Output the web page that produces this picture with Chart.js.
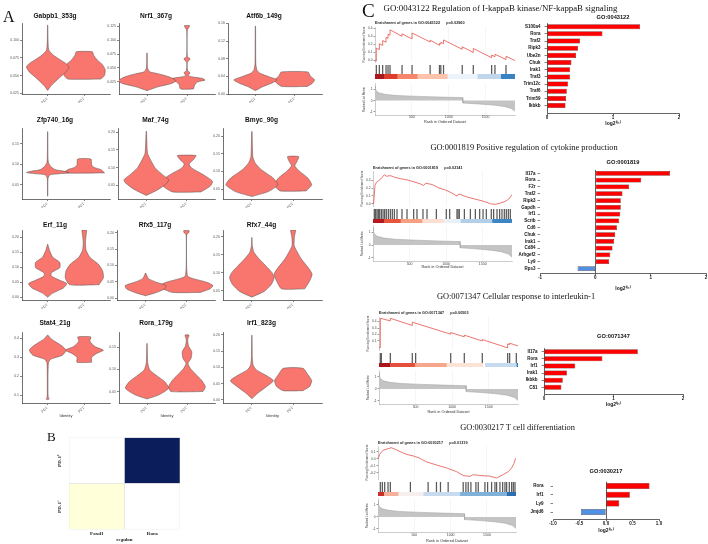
<!DOCTYPE html>
<html><head><meta charset="utf-8">
<script src="https://cdn.jsdelivr.net/npm/chart.js"></script>
<style>
html,body{margin:0;padding:0;background:#fff;}
#root{position:relative;width:708px;height:544px;overflow:hidden;background:#fff;}
#root canvas{position:absolute;}
.t{position:absolute;white-space:nowrap;line-height:1;color:#111;font-family:"Liberation Serif","Times New Roman",serif;}
</style></head><body><div id="root"></div>
<script>
// ---------------- DATA ----------------
const groups = ['PD1\u207B', 'PD1\u207A'];
const violinTitles = ['Gabpb1_353g','Nrf1_367g','Atf6b_149g','Zfp740_16g','Maf_74g','Bmyc_90g','Erf_11g','Rfx5_117g','Rfx7_44g','Stat4_21g','Rora_179g','Irf1_823g'];
// violin outlines: [value, relative half-width] from bottom to top
const gabpb1Neg = [[0.029,0],[0.036,0.1],[0.046,0.3],[0.055,0.5],[0.062,0.58],[0.067,0.5],[0.072,0.35],[0.079,0.15],[0.086,0.03],[0.1,0.01],[0.121,0.004]];
const gabpb1Pos = [[0.045,0.45],[0.05,0.55],[0.058,0.57],[0.065,0.5],[0.072,0.35],[0.079,0.25],[0.0835,0.22]];
const nrf1Neg = [[0.009,0],[0.016,0.28],[0.022,0.62],[0.027,0.72],[0.034,0.55],[0.04,0.25],[0.043,0.07],[0.05,0.014],[0.077,0.005]];
const nrf1Pos = [[0.012,0.16],[0.02,0.2],[0.025,0.27],[0.028,0.45],[0.031,0.39],[0.034,0.12],[0.037,0.025],[0.041,0.08],[0.045,0.016],[0.06,0.008],[0.066,0.08],[0.071,0.008],[0.118,0.008],[0.126,0.07]];
const atf6bNeg = [[0.0075,0],[0.017,0.2],[0.024,0.4],[0.032,0.55],[0.039,0.35],[0.047,0.12],[0.054,0.04],[0.069,0.01],[0.154,0.004]];
const atf6bPos = [[0.017,0.32],[0.024,0.45],[0.032,0.51],[0.041,0.4],[0.05,0.34]];
const zfp740Neg = [[0.022,0.004],[0.065,0.01],[0.074,0.06],[0.078,0.45],[0.08,0.58],[0.083,0.45],[0.087,0.2],[0.095,0.08],[0.105,0.02],[0.12,0.008],[0.18,0.004]];
const zfp740Pos = [[0.079,0.55],[0.087,0.45],[0.093,0.25],[0.099,0.2],[0.113,0.18]];
const mafNeg = [[0.021,0],[0.038,0.3],[0.057,0.52],[0.066,0.55],[0.08,0.4],[0.099,0.22],[0.123,0.1],[0.141,0.03],[0.203,0.004]];
const mafPos = [[0.031,0.35],[0.047,0.58],[0.061,0.64],[0.08,0.41],[0.099,0.12],[0.11,0.06],[0.123,0.17],[0.134,0.23]];
const bmycNeg = [[0.029,0],[0.043,0.4],[0.062,0.63],[0.081,0.52],[0.105,0.23],[0.124,0.08],[0.142,0.023],[0.213,0.005]];
const bmycPos = [[0.045,0.32],[0.062,0.45],[0.081,0.36],[0.1,0.16],[0.116,0.04],[0.128,0.095],[0.142,0.135]];
const erfNeg = [[0,0],[0.014,0.14],[0.031,0.43],[0.046,0.52],[0.057,0.33],[0.071,0.1],[0.082,0.1],[0.099,0.33],[0.117,0.33],[0.134,0.14],[0.157,0.05],[0.177,0.004]];
const erfPos = [[0.042,0.4],[0.065,0.52],[0.088,0.5],[0.111,0.38],[0.134,0.15],[0.157,0.05],[0.185,0.03],[0.208,0.05],[0.225,0.06]];
const rfx5Neg = [[0.008,0],[0.018,0.27],[0.029,0.47],[0.039,0.5],[0.049,0.27],[0.06,0.07],[0.07,0.027],[0.077,0.004]];
const rfx5Pos = [[0.018,0.34],[0.029,0.58],[0.039,0.65],[0.049,0.5],[0.06,0.17],[0.067,0.034],[0.095,0.006],[0.193,0.006],[0.2,0.056],[0.206,0.067]];
const rfx7Neg = [[0.032,0],[0.048,0.3],[0.067,0.47],[0.086,0.54],[0.1,0.49],[0.119,0.34],[0.138,0.18],[0.157,0.05],[0.176,0.01],[0.198,0.003]];
const rfx7Pos = [[0.055,0.28],[0.077,0.4],[0.096,0.46],[0.115,0.36],[0.138,0.2],[0.162,0.08],[0.176,0.025],[0.2,0.032],[0.219,0.057]];
const stat4Neg = [[0.076,0.02],[0.08,0.045],[0.085,0.02],[0.11,0.01],[0.27,0.02],[0.29,0.09],[0.31,0.4],[0.337,0.5],[0.358,0.4],[0.381,0.22],[0.398,0.09],[0.416,0.01]];
const stat4Pos = [[0.273,0.2],[0.299,0.2],[0.32,0.34],[0.337,0.52],[0.355,0.3],[0.372,0.2],[0.386,0.15],[0.407,0.18]];
const roraNeg = [[0.033,0],[0.0425,0.3],[0.0575,0.54],[0.0725,0.44],[0.0876,0.22],[0.099,0.07],[0.114,0.02],[0.136,0.01],[0.159,0.004]];
const roraPos = [[0.05,0.4],[0.061,0.46],[0.076,0.36],[0.091,0.2],[0.103,0.08],[0.114,0.025],[0.125,0.1],[0.14,0.12],[0.153,0.04],[0.167,0.016],[0.178,0.05]];
const irf1Neg = [[0.003,0],[0.02,0.14],[0.041,0.36],[0.059,0.52],[0.077,0.32],[0.092,0.11],[0.107,0.03],[0.133,0.01],[0.199,0.004]];
const irf1Pos = [[0.028,0.24],[0.041,0.4],[0.059,0.45],[0.077,0.36],[0.097,0.24]];
const violinProfiles = [[gabpb1Neg,gabpb1Pos],[nrf1Neg,nrf1Pos],[atf6bNeg,atf6bPos],[zfp740Neg,zfp740Pos],[mafNeg,mafPos],[bmycNeg,bmycPos],[erfNeg,erfPos],[rfx5Neg,rfx5Pos],[rfx7Neg,rfx7Pos],[stat4Neg,stat4Pos],[roraNeg,roraPos],[irf1Neg,irf1Pos]];
// y axis: [min, max, tick step, decimals]
const violinAxes = [[0.024,0.124,0.025,3],[0.003,0.131,0.025,3],[0,0.161,0.04,2],[0.015,0.189,0.05,2],[0.011,0.212,0.05,2],[0.022,0.223,0.05,2],[-0.009,0.225,0.05,2],[-0.005,0.208,0.05,2],[0.024,0.219,0.05,2],[0.058,0.433,0.1,1],[0.024,0.185,0.05,2],[-0.01,0.209,0.05,2]];

// heatmap (panel B)
const heatCols = ['Foxd1','Rora'];
const heatRows = ['PD-1\u207B','PD-1\u207A'];       // bottom to top
const heatValues = [[0, null],[null, 1]];

// GSEA (panel C)
const gseaGO = ['GO:0043122','GO:0001819','GO:0071347','GO:0030217'];
const gseaNames = ['Regulation of I-kappaB kinase/NF-kappaB signaling','Positive regulation of cytokine production','Cellular response to interleukin-1','T cell differentiation'];
const gseaP = ['0.02960','0.02141','0.00503','0.01319'];
const rankTicks = [500, 1000, 1500];
const es1 = [[0,0],[18,-0.008],[18,0.155],[59,0.136],[59,0.21],[104,0.189],[104,0.25],[150,0.228],[150,0.29],[177,0.277],[177,0.33],[204,0.317],[204,0.385],[367,0.303],[367,0.335],[503,0.27],[503,0.345],[748,0.232],[748,0.255],[875,0.19],[875,0.215],[893,0.207],[893,0.228],[930,0.212],[930,0.258],[1184,0.14],[1184,0.172],[1334,0.1],[1334,0.15],[1583,0.035],[1583,0.068],[1628,0.047],[1628,0.078],[1778,0.012],[1778,0.052],[1900,0]];
const es2 = [[0,0],[9,0.004],[27,0.233],[46,0.272],[77,0.292],[109,0.319],[155,0.37],[182,0.35],[237,0.358],[282,0.342],[374,0.319],[465,0.303],[556,0.28],[647,0.253],[692,0.233],[720,0.261],[806,0.245],[898,0.202],[989,0.175],[1080,0.136],[1148,0.097],[1171,0.125],[1285,0.086],[1399,0.058],[1513,0.031],[1604,0],[1672,-0.008],[1740,0.008],[1809,0.031],[1854,0.058],[1886,0.097],[1900,0.117]];
const es3 = [[0,0],[18,-0.005],[18,0.45],[155,0.41],[155,0.45],[455,0.34],[455,0.39],[980,0.205],[980,0.23],[1166,0.165],[1166,0.19],[1412,0.1],[1412,0.122],[1759,-0.006],[1759,0.055],[1786,0.045],[1786,0.066],[1900,0.024]];
const es4 = [[0,0],[9,0],[23,0.065],[46,0.096],[69,0.122],[115,0.139],[184,0.161],[253,0.13],[322,0.096],[391,0.065],[483,0.043],[575,0.009],[667,-0.043],[805,-0.087],[943,-0.13],[1081,-0.183],[1173,-0.239],[1265,-0.252],[1311,-0.226],[1403,-0.239],[1541,-0.248],[1633,-0.274],[1725,-0.226],[1794,-0.183],[1840,-0.13],[1872,-0.065],[1895,0.009]];
const hits1 = [18,59,104,150,177,204,367,503,748,875,893,930,1184,1334,1583,1628,1778];
const hits2 = [18,36,55,73,91,114,137,159,182,210,237,264,292,328,396,465,556,601,683,738,866,1002,1048,1148,1162,1180,1249,1331,1399,1458,1504,1549,1617,1649,1695,1731,1763,1795,1822,1850,1877];
const hits3 = [18,32,155,455,501,980,1166,1412,1759,1786,1877];
const hits4 = [32,60,92,138,170,446,690,805,860,966,1173,1210,1242,1279,1348,1380,1472,1509,1564,1610,1633,1679,1716,1748,1771,1808,1840,1863,1886];
const stripBreaks1 = [0,118,299,571,980,1388,1705,1900];
const stripBreaks2 = [0,146,374,670,966,1194,1626,1900];
const stripBreaks3 = [0,146,487,920,1421,1444,1877,1900];
const stripBreaks4 = [0,78,276,621,1127,1771,1900];
const rankedMetric = [[0,1.3],[5,1.1],[20,0.85],[60,0.68],[150,0.55],[300,0.46],[600,0.38],[900,0.32],[1190,0.27],[1192,-0.22],[1400,-0.3],[1600,-0.4],[1750,-0.52],[1850,-0.7],[1900,-0.95]];
const metricTicks = [-1, 0, 1];
const esCurves = [es1,es2,es3,es4];
const hitSets = [hits1,hits2,hits3,hits4];
const stripBreaks = [stripBreaks1,stripBreaks2,stripBreaks3,stripBreaks4];
const esAxes = [[-0.02,0.42],[-0.03,0.417],[-0.04,0.47],[-0.29,0.185]];
const esTicks = [[0,0.1,0.2,0.3,0.4],[0,0.1,0.2,0.3],[0.1,0.2,0.3,0.4],[-0.2,-0.1,0,0.1]];

// log2 fold change bars
const go1Genes = ['S100a4','Rora','Traf2','Ripk3','Ube2n','Chuk','Irak1','Traf3','Trim12c','Traf6','Trim59','Ikbkb'];
const go1FC = [1.41,0.84,0.50,0.47,0.44,0.37,0.35,0.35,0.32,0.30,0.29,0.28];
const go2Genes = ['Il17a','Rora','F2r','Traf2','Ripk3','Gapdh','Irf1','Scrib','Cd6','Chuk','Irak1','Cd84','Arhgef2','Ly9','Rps3'];
const go2FC = [1.35,0.83,0.61,0.49,0.46,0.46,0.45,0.43,0.39,0.36,0.34,0.31,0.27,0.25,-0.32];
const go3Genes = ['Il17a','Rora','Irf1','Irak1','Ikbkb','C81'];
const go3FC = [1.35,0.84,0.45,0.33,0.27,0.25];
const go4Genes = ['Rora','Irf1','Ly9','Jmjd6'];
const go4FC = [0.82,0.45,0.25,-0.47];
const goGenes = [go1Genes,go2Genes,go3Genes,go4Genes];
const goFC = [go1FC,go2FC,go3FC,go4FC];

// ---------------- STYLES ----------------
const violinFill = '#F8766D', violinEdge = '#505050';
const heatLow = '#ffffd9', heatHigh = '#0b1d5a', heatNA = '#ffffff';
const stripColors = [
  ['#a8191f','#de3d2e','#f5866b','#fcc2aa','#edf3fb','#bfd6ec','#3a83c3'],
  ['#b3191f','#e8553f','#f6a083','#fde0d2','#e9f0f8','#b3cfe8','#3c86c6'],
  ['#a8171d','#e5503b','#f5a68b','#fde3d6','#ffffff','#c6dbef','#2f78b8'],
  ['#c8312a','#f6b19a','#f7efee','#c7daee','#7fb1d9','#2d6fae']];
const esColor = '#e5534b', barPos = '#ff0000', barNeg = '#4f92e3', barEdge = '#3b0a0a', hitColor = '#5a5a5a';
const SERIF = "'Liberation Serif','Times New Roman',serif";

// ---------------- LAYOUT ----------------
const violinLayout = [
  {titleX:72,titleY:16,left:22,right:110,top:23,bottom:94},
  {titleX:189,titleY:16,left:119,right:215,top:23,bottom:94},
  {titleX:290,titleY:16,left:228,right:322,top:23,bottom:94},
  {titleX:75,titleY:120,left:22,right:110,top:128,bottom:199},
  {titleX:193,titleY:120,left:118,right:215,top:128,bottom:199},
  {titleX:295,titleY:120,left:223,right:322,top:128,bottom:199},
  {titleX:72,titleY:225,left:22,right:110,top:230,bottom:300},
  {titleX:193,titleY:225,left:117,right:215,top:230,bottom:300},
  {titleX:295,titleY:225,left:223,right:322,top:230,bottom:300},
  {titleX:74,titleY:323,left:22,right:110,top:332,bottom:403,xTitle:true},
  {titleX:179,titleY:323,left:119,right:215,top:332,bottom:403,xTitle:true},
  {titleX:277,titleY:323,left:223,right:322,top:332,bottom:403,xTitle:true}];
const gseaLayout = [
  {L:362,A:375,R:515,titleY:23,esTop:27,esBot:65,bcBot:74,stBot:79,mTop:83,mBot:115.5,xH:8.9},
  {L:360,A:373,R:512,titleY:168,esTop:171,esBot:209,bcBot:219,stBot:223,mTop:225,mBot:262,xH:7.4},
  {L:366,A:379,R:518,titleY:313,esTop:317,esBot:353,bcBot:363,stBot:367,mTop:370,mBot:405,xH:9.4},
  {L:365,A:378,R:516,titleY:443,esTop:446,esBot:482,bcBot:492,stBot:496,mTop:498,mBot:533,xH:10.4}];
const barLayout = [
  {titleY:17,left:547,right:679,top:23.1,bottom:113.5,xH:13.5,yMax:12.1,xMin:0,xMax:2,xStep:1,dec:0,yPad:4},
  {titleY:162.3,left:540,right:706,top:169.9,bottom:273.3,xH:18.7,yMax:14.7,xMin:-1,xMax:2,xStep:1,dec:0,yPad:2},
  {titleY:336.7,left:544,right:683,top:348.1,bottom:394,xH:14,yMax:5.94,xMin:0,xMax:2,xStep:1,dec:0,yPad:4},
  {titleY:471,left:553,right:659,top:481.7,bottom:519.3,xH:14.7,yMax:3.84,xMin:-1,xMax:1,xStep:0.5,dec:1,yPad:7}];
const headings = [{x:500.5,y:8.5,s:8.8},{x:524,y:149,s:8.4},{x:516,y:298,s:8.4},{x:517.5,y:429,s:8.4}];

// ---------------- DRAW ----------------
Chart.defaults.font.family = "'Liberation Sans', Arial, Helvetica, sans-serif";
Chart.defaults.color = '#222';
Chart.defaults.animation = false;
Chart.defaults.responsive = false;
Chart.defaults.maintainAspectRatio = false;
Chart.defaults.devicePixelRatio = 1;
Chart.defaults.plugins.legend.display = false;
Chart.defaults.plugins.tooltip.enabled = false;
Chart.defaults.events = [];

const root = document.getElementById('root');
function addCanvas(l, t, w, h) {
  const c = document.createElement('canvas');
  c.width = Math.round(w); c.height = Math.round(h);
  c.style.left = Math.round(l) + 'px'; c.style.top = Math.round(t) + 'px';
  c.style.width = Math.round(w) + 'px'; c.style.height = Math.round(h) + 'px';
  root.appendChild(c);
  return c;
}
function addText(txt, x, y, size, center) {
  const d = document.createElement('div');
  d.className = 't'; d.textContent = txt;
  d.style.fontSize = size + 'px';
  d.style.left = x + 'px';
  d.style.top = (y - 0.55 * size) + 'px';
  if (center) d.style.transform = 'translateX(-50%)';
  root.appendChild(d);
}
function outline(prof, pos) {
  const right = prof.map(([v, w]) => ({x: pos + w, y: v}));
  const left = prof.slice().reverse().map(([v, w]) => ({x: pos - w, y: v}));
  return right.concat(left, [right[0]]);
}
function stepTicks(min, max, step) {
  const out = [];
  for (let v = Math.ceil(min / step - 1e-9) * step; v <= max + 1e-9; v += step) out.push({value: Math.round(v * 1e6) / 1e6});
  return out;
}
function lerpHex(a, b, t) {
  const pa = [1,3,5].map(i => parseInt(a.substr(i,2),16));
  const pb = [1,3,5].map(i => parseInt(b.substr(i,2),16));
  return 'rgb(' + pa.map((v,i) => Math.round(v + (pb[i]-v)*t)).join(',') + ')';
}
function heatColor(v) { return v == null ? heatNA : lerpHex(heatLow, heatHigh, v); }

// ---- Panel A: violins
function drawViolin(i) {
  const g = violinLayout[i];
  const fs = 6.6, yW = 22;
  const xH = g.xTitle ? 15 : 9;
  const cl = g.left - yW;
  const cw = Math.round(2 * (g.titleX - cl));
  const ct = Math.round(g.titleY - 0.6 * fs);
  const ch = Math.round(g.bottom + xH - ct);
  const [ymin, ymax, step, dec] = violinAxes[i];
  const datasets = violinProfiles[i].map((prof, k) => ({
    data: outline(prof, k + 1), showLine: true, fill: 'shape',
    backgroundColor: violinFill, borderColor: violinEdge, borderWidth: 0.5,
    pointRadius: 0, tension: 0.2
  }));
  new Chart(addCanvas(cl, ct, cw, ch), {
    type: 'scatter', data: {datasets},
    options: {
      layout: {padding: {left: 0, top: 0, bottom: 0, right: cl + cw - g.right}},
      plugins: {title: {display: true, text: violinTitles[i], color: '#111', font: {size: fs, weight: 'bold'}, padding: {top: 0, bottom: g.top - ct - 1.2 * fs}}},
      scales: {
        x: {type: 'linear', min: 0.3, max: 2.7, afterFit: s => { s.height = xH; },
            afterBuildTicks: s => { s.ticks = groups.map((_, j) => ({value: j + 1})); },
            border: {color: '#333', width: 0.7},
            grid: {drawOnChartArea: false, drawTicks: true, tickLength: 2, tickColor: '#333', lineWidth: 0.6},
            ticks: {autoSkip: false, minRotation: 45, maxRotation: 45, padding: 0, font: {size: 3.6}, color: '#555', callback: (v, j) => groups[j]},
            title: {display: !!g.xTitle, text: 'Identity', font: {size: 4}, padding: 0, color: '#333'}},
        y: {min: ymin, max: ymax, afterFit: s => { s.width = yW; },
            afterBuildTicks: s => { s.ticks = stepTicks(ymin, ymax, step); },
            border: {color: '#333', width: 0.7},
            grid: {drawOnChartArea: false, drawTicks: true, tickLength: 2, tickColor: '#333', lineWidth: 0.6},
            ticks: {autoSkip: false, padding: 1, font: {size: 3.5}, color: '#555', callback: v => v.toFixed(dec)}}
      }
    }
  });
}
for (let i = 0; i < violinTitles.length; i++) drawViolin(i);

// ---- Panel B: heatmap
(function () {
  const cv = addCanvas(53, 432, 129, 111);
  const sf = {family: SERIF, size: 5, weight: 'bold'};
  new Chart(cv, {
    type: 'bar',
    data: {labels: heatCols, datasets: heatRows.map((r, ri) => ({
      label: r, data: heatCols.map(() => 1),
      backgroundColor: heatValues[ri].map(heatColor),
      borderColor: '#dddddd', borderWidth: 0.6, borderSkipped: false,
      barPercentage: 1, categoryPercentage: 1}))},
    options: {
      layout: {padding: {top: 5, right: 2, left: 0, bottom: 0}},
      scales: {
        x: {stacked: true, afterFit: s => { s.height = 13.5; }, grid: {display: false, drawTicks: false}, border: {display: false},
            ticks: {padding: 1, font: sf, color: '#222'}, title: {display: true, text: 'regulon', font: sf, padding: 0, color: '#222'}},
        y: {stacked: true, min: 0, max: heatRows.length, afterFit: s => { s.width = 16; },
            afterBuildTicks: s => { s.ticks = heatRows.map((_, j) => ({value: j + 0.5})); },
            grid: {display: false, drawTicks: false}, border: {display: false},
            ticks: {minRotation: 90, maxRotation: 90, crossAlign: 'center', padding: 2.5, font: sf, color: '#222', callback: (v, j) => heatRows[j]}}
      }
    }
  });
})();

// ---- Panel C: GSEA
function drawGsea(b) {
  const g = gseaLayout[b];
  const yW = g.A - g.L, rp = 3;
  const cw = g.R + rp - g.L;
  const fsT = 3.8;
  const ct = Math.round(g.titleY - 0.6 * fsT);
  const lightGrid = {color: '#ededed', lineWidth: 0.5, drawTicks: false};
  // running enrichment score
  new Chart(addCanvas(g.L, ct, cw, g.esBot - ct), {
    type: 'line',
    data: {datasets: [{data: esCurves[b].map(([x, y]) => ({x, y})), borderColor: esColor, borderWidth: 0.8, pointRadius: 0, tension: 0, fill: false}]},
    options: {
      layout: {padding: {right: rp}},
      plugins: {title: {display: true, fullSize: false, align: 'start', text: 'Enrichment of genes in ' + gseaGO[b] + '      p=' + gseaP[b],
        font: {size: fsT}, color: '#222', padding: {top: 0, bottom: g.esTop - ct - 1.2 * fsT}}},
      scales: {
        x: {type: 'linear', min: 0, max: 1900, afterFit: s => { s.height = 0; },
            afterBuildTicks: s => { s.ticks = rankTicks.map(v => ({value: v})); },
            ticks: {display: false}, grid: lightGrid, border: {display: false}},
        y: {min: esAxes[b][0], max: esAxes[b][1], afterFit: s => { s.width = yW; },
            afterBuildTicks: s => { s.ticks = esTicks[b].map(v => ({value: v})); },
            ticks: {autoSkip: false, font: {size: 3.2}, padding: 1, color: '#444', callback: v => v.toFixed(1)},
            grid: {drawOnChartArea: false, drawTicks: true, tickLength: 1.5, tickColor: '#999'},
            border: {color: '#999', width: 0.5},
            title: {display: true, text: 'Running Enrichment Score', font: {size: 3}, padding: 0, color: '#444'}}
      }
    }
  });
  // hit barcode
  new Chart(addCanvas(g.L, g.esBot, cw, g.bcBot - g.esBot), {
    type: 'bar',
    data: {datasets: [{data: hitSets[b].map(h => ({x: h, y: 1})), backgroundColor: hitColor, barThickness: 0.6, borderWidth: 0}]},
    options: {
      layout: {padding: {left: yW, right: rp}},
      scales: {x: {type: 'linear', offset: false, min: 0, max: 1900, display: false}, y: {min: 0, max: 1, display: false}}
    }
  });
  // color strip
  new Chart(addCanvas(g.L, g.bcBot, cw, g.stBot - g.bcBot), {
    type: 'bar',
    data: {labels: ['rank'], datasets: stripColors[b].map((c, i) => ({
      data: [[stripBreaks[b][i], stripBreaks[b][i + 1]]], backgroundColor: c, borderWidth: 0,
      barPercentage: 1, categoryPercentage: 1, grouped: false}))},
    options: {
      indexAxis: 'y',
      layout: {padding: {left: yW, right: rp}},
      scales: {x: {type: 'linear', min: 0, max: 1900, display: false}, y: {display: false}}
    }
  });
  // ranked list metric
  const mt = Math.round(g.mTop - 2);
  new Chart(addCanvas(g.L, mt, cw, g.mBot + g.xH - mt), {
    type: 'line',
    data: {datasets: [{data: rankedMetric.map(([x, y]) => ({x, y})), fill: 'origin', backgroundColor: '#c4c4c4', borderColor: '#a0a0a0', borderWidth: 0.5, pointRadius: 0, tension: 0}]},
    options: {
      layout: {padding: {top: g.mTop - mt, right: rp}},
      scales: {
        x: {type: 'linear', min: 0, max: 1900, afterFit: s => { s.height = g.xH; },
            afterBuildTicks: s => { s.ticks = rankTicks.map(v => ({value: v})); },
            ticks: {autoSkip: false, font: {size: 3.5}, padding: 0, color: '#444', callback: v => String(v)},
            grid: lightGrid, border: {color: '#999', width: 0.5},
            title: {display: true, text: 'Rank in Ordered Dataset', font: {size: 3.8}, padding: 0, color: '#333'}},
        y: {min: -1.3, max: 1.5, afterFit: s => { s.width = yW; },
            afterBuildTicks: s => { s.ticks = metricTicks.map(v => ({value: v})); },
            ticks: {autoSkip: false, font: {size: 3.2}, padding: 1, color: '#444'},
            grid: {drawOnChartArea: false, drawTicks: true, tickLength: 1.5, tickColor: '#999'},
            border: {color: '#999', width: 0.5},
            title: {display: true, text: 'Ranked List Metric', font: {size: 3}, padding: 0, color: '#444'}}
      }
    }
  });
}
for (let b = 0; b < 4; b++) drawGsea(b);

// ---- Panel C: fold-change bars
function drawBars(k) {
  const g = barLayout[k];
  const genes = goGenes[k], fc = goFC[k];
  const fs = 5.7, yW = 36;
  const cl = Math.round(g.left - yW);
  const ct = Math.round(g.titleY - 0.6 * fs);
  const cr = Math.min(708, Math.round(g.right + 4));
  const cb = Math.round(g.bottom + g.xH);
  new Chart(addCanvas(cl, ct, cr - cl, cb - ct), {
    type: 'bar',
    data: {datasets: [{data: genes.map((n, i) => ({x: fc[i], y: i})),
      backgroundColor: fc.map(v => v < 0 ? barNeg : barPos), borderColor: barEdge, borderWidth: 0.5, borderSkipped: false,
      barPercentage: 0.7, categoryPercentage: 1}]},
    options: {
      indexAxis: 'y',
      layout: {padding: {left: 0, top: 0, bottom: 0, right: cr - g.right}},
      plugins: {title: {display: true, fullSize: false, text: gseaGO[k], color: '#111', font: {size: fs, weight: 'bold'}, padding: {top: 0, bottom: g.top - ct - 1.2 * fs}}},
      scales: {
        y: {type: 'linear', reverse: true, min: -0.5, max: g.yMax, offset: false,
            afterFit: s => { s.width = g.left - cl; },
            afterBuildTicks: s => { s.ticks = genes.map((_, i) => ({value: i})); },
            border: {display: false},
            grid: {offset: false, drawOnChartArea: false, drawTicks: true, tickLength: 2.5, tickColor: '#333', lineWidth: 0.6},
            ticks: {autoSkip: false, padding: g.yPad, font: {size: 4.5, weight: 'bold'}, color: '#111', callback: (v, i) => genes[i]}},
        x: {type: 'linear', min: g.xMin, max: g.xMax, afterFit: s => { s.height = g.xH; },
            afterBuildTicks: s => { s.ticks = stepTicks(g.xMin, g.xMax, g.xStep); },
            border: {display: true, color: '#222', width: 0.7},
            grid: {drawOnChartArea: true, color: c => (c.tick && c.tick.value === 0) ? '#222' : 'rgba(0,0,0,0)', lineWidth: 0.7, drawTicks: true, tickLength: 2, tickColor: '#222'},
            ticks: {autoSkip: false, padding: 0, font: {size: 4.5, weight: 'bold'}, color: '#111', callback: v => v.toFixed(g.dec)},
            title: {display: true, text: 'log2\u207D\u1DA0\u1D9C\u207E', font: {size: 5, weight: 'bold'}, color: '#111', padding: 0}}
      }
    }
  });
}
for (let k = 0; k < 4; k++) drawBars(k);

// ---- text labels
addText('A', 3, 18, 16, false);
addText('B', 47, 437.5, 13, false);
addText('C', 362, 11.5, 19, false);
headings.forEach((h, i) => addText(gseaGO[i] + ' ' + gseaNames[i], h.x, h.y, h.s, true));
</script></body></html>
